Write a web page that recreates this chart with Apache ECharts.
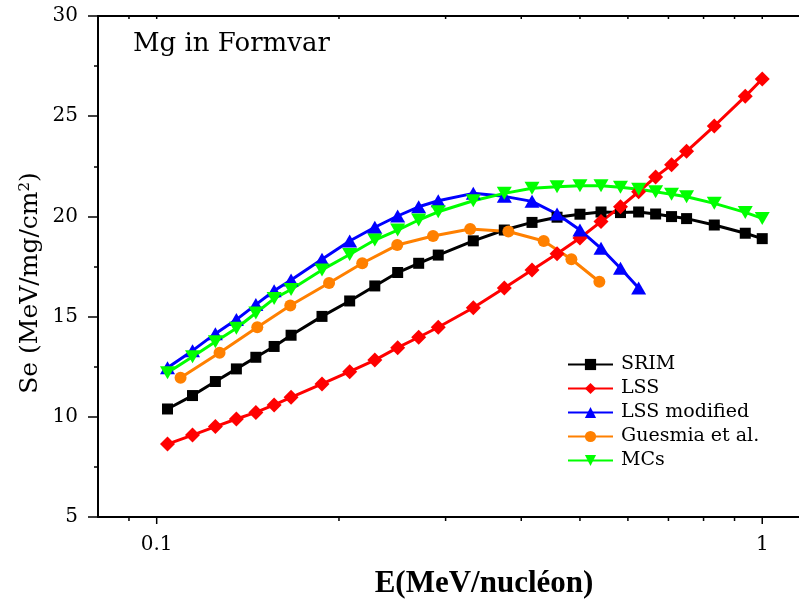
<!DOCTYPE html>
<html><head><meta charset="utf-8">
<script src="https://cdn.jsdelivr.net/npm/echarts@6/dist/echarts.min.js"></script>
<style>html,body{margin:0;padding:0;background:#fff}#c{width:799px;height:605px}</style>
</head><body><div id="c"></div>
<script>
// Energies (MeV/nucleon)
const energyMain = [0.1042, 0.1146, 0.125, 0.1354, 0.1458, 0.1563, 0.1667, 0.1875, 0.2083, 0.2292, 0.25, 0.2708, 0.2917, 0.3333, 0.375, 0.4167, 0.4583, 0.5, 0.5417, 0.5833, 0.625, 0.6667, 0.7083, 0.75, 0.8333, 0.9375, 1.0];
const energyLssMod = [0.1042, 0.1146, 0.125, 0.1354, 0.1458, 0.1563, 0.1667, 0.1875, 0.2083, 0.2292, 0.25, 0.2708, 0.2917, 0.3333, 0.375, 0.4167, 0.4583, 0.5, 0.5417, 0.5833, 0.625];
const energyGuesmia = [0.1095, 0.127, 0.1466, 0.1662, 0.1926, 0.2185, 0.2496, 0.286, 0.3294, 0.3809, 0.4356, 0.484, 0.5383];
// Stopping values Se (MeV/mg/cm2)
const srimSe = [10.39, 11.06, 11.76, 12.39, 12.97, 13.51, 14.07, 15.01, 15.78, 16.53, 17.2, 17.66, 18.07, 18.78, 19.32, 19.7, 19.96, 20.11, 20.22, 20.19, 20.22, 20.12, 19.99, 19.89, 19.57, 19.16, 18.89];
const lssSe = [8.64, 9.09, 9.51, 9.89, 10.22, 10.59, 10.97, 11.64, 12.25, 12.83, 13.45, 13.97, 14.47, 15.44, 16.43, 17.33, 18.14, 18.92, 19.74, 20.48, 21.23, 21.97, 22.58, 23.25, 24.51, 25.99, 26.86];
const lssModSe = [12.45, 13.3, 14.15, 14.85, 15.6, 16.29, 16.83, 17.86, 18.77, 19.46, 20.02, 20.48, 20.78, 21.15, 21.0, 20.75, 20.12, 19.32, 18.41, 17.41, 16.43];
const guesmiaSe = [11.95, 13.2, 14.47, 15.55, 16.68, 17.66, 18.57, 19.02, 19.37, 19.25, 18.77, 17.86, 16.74];
const mcsSe = [12.2, 13.0, 13.75, 14.42, 15.18, 15.9, 16.35, 17.33, 18.1, 18.82, 19.32, 19.82, 20.23, 20.78, 21.15, 21.4, 21.48, 21.53, 21.53, 21.45, 21.35, 21.23, 21.1, 20.98, 20.65, 20.2, 19.9];
// Labels
const seriesNames = ['SRIM', 'LSS', 'LSS modified', 'Guesmia et al.', 'MCs'];
const xTickValues = [0.09, 0.1, 0.2, 0.3, 0.4, 0.5, 0.6, 0.7, 0.8, 0.9, 1];
const xMajorTicks = [0.1, 1];
const chartTitle = 'Mg in Formvar';
const xAxisTitle = 'E(MeV/nucléon)';

const SERIF = 'DejaVu Serif';
const chart = echarts.init(document.getElementById('c'), null, {renderer: 'canvas'});
function pairs(xs, ys) { return xs.map((x, i) => [x, ys[i]]); }
function mk(name, xs, ys, color, symbol, size, rotate, width) {
  return {
    name: name, type: 'line', data: pairs(xs, ys), xAxisIndex: 0, yAxisIndex: 0,
    symbol: symbol, symbolSize: size, symbolRotate: rotate || 0, showAllSymbol: true,
    lineStyle: {color: color, width: width}, itemStyle: {color: color, borderWidth: 0},
    emphasis: {disabled: true}
  };
}
const xMin = 0.08, xMax = 1.15;
const option = {
  animation: false,
  backgroundColor: '#fff',
  grid: {left: 98, right: 0, top: 16, bottom: 88, containLabel: false},
  xAxis: [
    {type: 'log', logBase: 10, min: xMin, max: xMax, position: 'bottom',
     axisLine: {show: true, onZero: false, lineStyle: {color: '#000', width: 2}},
     axisTick: {show: false}, minorTick: {show: false}, splitLine: {show: false},
     axisLabel: {show: true, margin: 18, color: '#000', fontFamily: SERIF, fontSize: 20,
       showMinLabel: false, showMaxLabel: false,
       formatter: function (v) { const l = Math.log10(v); return Math.abs(l - Math.round(l)) < 1e-6 ? String(Number(v.toPrecision(6))) : ''; }}},
    {type: 'log', logBase: 10, min: xMin, max: xMax, position: 'top',
     axisLine: {show: true, onZero: false, lineStyle: {color: '#000', width: 2}},
     axisTick: {show: false}, axisLabel: {show: false}, splitLine: {show: false}}
  ],
  yAxis: {type: 'value', min: 5, max: 30, interval: 5,
    axisLine: {show: true, onZero: false, lineStyle: {color: '#000', width: 2}},
    axisTick: {show: true, inside: false, length: 10, lineStyle: {color: '#000', width: 1.5}},
    minorTick: {show: true, splitNumber: 2, length: 4, lineStyle: {color: '#000', width: 1.5}},
    splitLine: {show: false}, minorSplitLine: {show: false},
    axisLabel: {margin: 20, color: '#000', fontFamily: SERIF, fontSize: 20}},
  legend: {
    left: 567, top: 355, padding: 0, orient: 'vertical', itemWidth: 45, itemHeight: 14, itemGap: 5,
    data: seriesNames,
    textStyle: {color: '#000', fontFamily: SERIF, fontSize: 19, lineHeight: 19, padding: [0, 0, 0, 3]}
  },
  series: [
    mk(seriesNames[0], energyMain, srimSe, '#000000', 'rect', 11, 0, 3),
    mk(seriesNames[1], energyMain, lssSe, '#ff0000', 'diamond', 15, 0, 3),
    mk(seriesNames[2], energyLssMod, lssModSe, '#0000ff', 'triangle', [15, 13], 0, 3),
    mk(seriesNames[3], energyGuesmia, guesmiaSe, '#ff8000', 'circle', 12, 0, 3),
    mk(seriesNames[4], energyMain, mcsSe, '#00ff00', 'triangle', [15, 13], 180, 3)
  ]
};
chart.setOption(option);

const yB = chart.convertToPixel({yAxisIndex: 0}, 5);
const yT = chart.convertToPixel({yAxisIndex: 0}, 30);
const graphics = [];
xTickValues.forEach(function (v, i) {
  const px = chart.convertToPixel({xAxisIndex: 0}, v);
  const major = xMajorTicks.indexOf(v) >= 0;
  graphics.push({type: 'line', silent: true, shape: {x1: px, y1: yB, x2: px, y2: yB + (major ? 7 : 4)}, style: {stroke: '#000', lineWidth: 1.5}});
  graphics.push({type: 'line', silent: true, shape: {x1: px, y1: yT, x2: px, y2: yT + 3}, style: {stroke: '#000', lineWidth: 1.5}});
});
graphics.push({type: 'text', x: 133, y: 44, silent: true,
  style: {text: chartTitle, fontFamily: SERIF, fontSize: 26, fill: '#000', align: 'left', verticalAlign: 'middle', textAlign: 'left', textVerticalAlign: 'middle'}});
graphics.push({type: 'text', x: 484, y: 584, silent: true,
  style: {text: xAxisTitle, fontFamily: 'Liberation Serif', fontWeight: 'bold', fontSize: 31, fill: '#000', align: 'center', verticalAlign: 'middle', textAlign: 'center', textVerticalAlign: 'middle'}});
graphics.push({type: 'text', x: 30, y: 283, rotation: Math.PI / 2, silent: true,
  style: {text: 'Se (MeV/mg/cm{sup|2})', fontFamily: SERIF, fontSize: 25, fill: '#000', align: 'center', verticalAlign: 'middle', textAlign: 'center', textVerticalAlign: 'middle',
    rich: {sup: {fontFamily: SERIF, fontSize: 15, verticalAlign: 'top', fill: '#000'}}}});
chart.setOption({graphic: graphics});
</script>
</body></html>
